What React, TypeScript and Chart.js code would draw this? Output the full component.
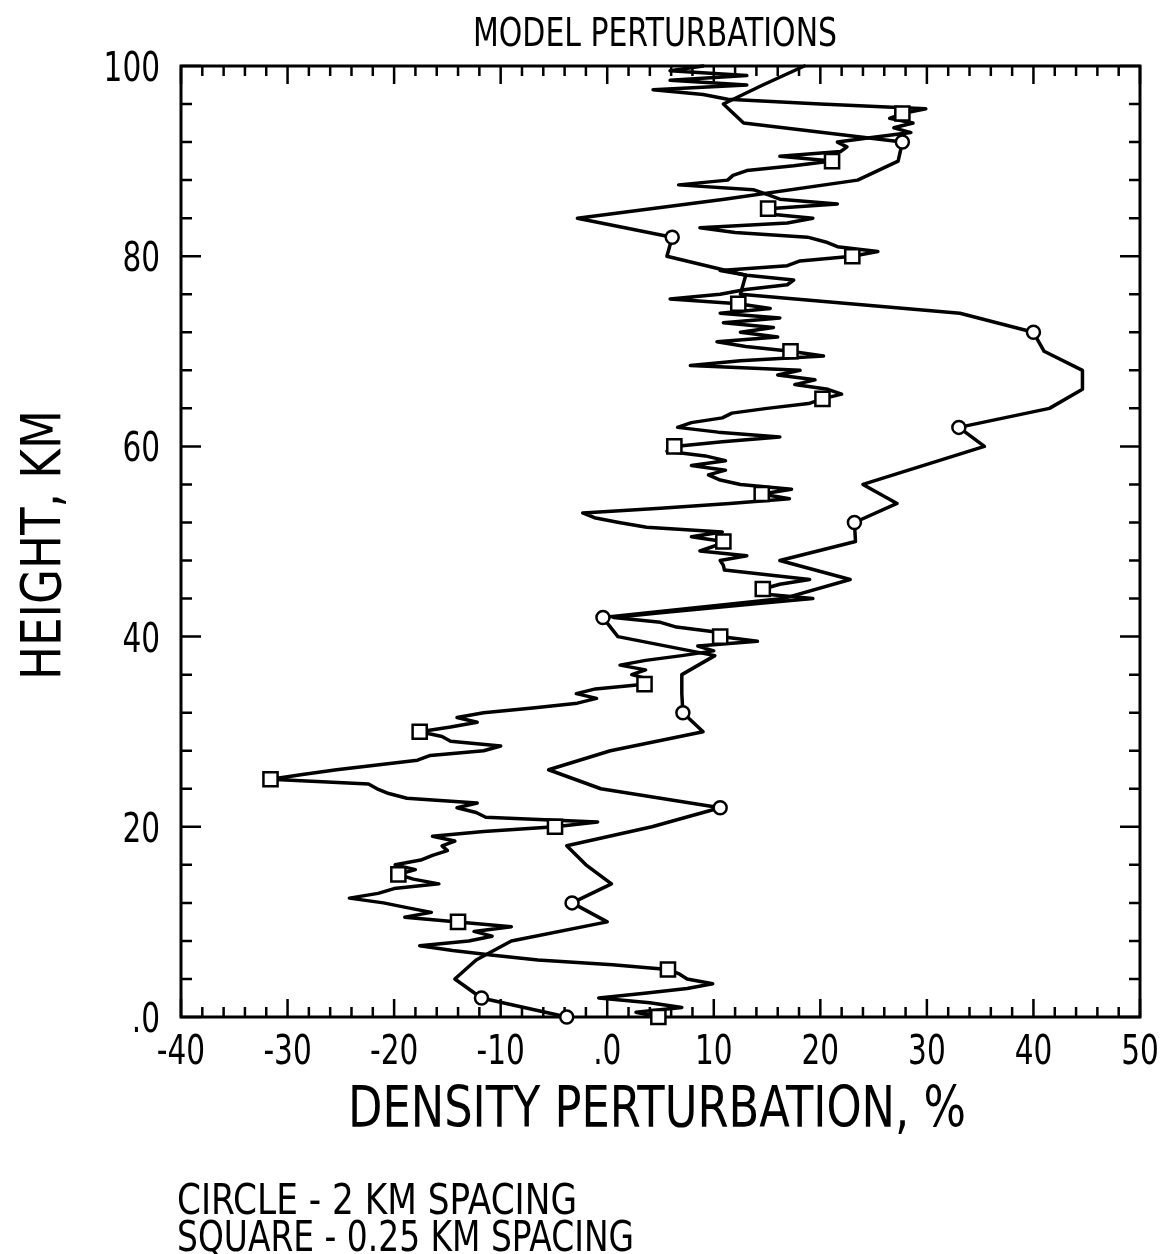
import React, { useEffect, useRef } from 'react';
import { Chart, registerables } from 'chart.js';

Chart.register(...registerables);

const FONT = "'Liberation Sans Narrow', 'DejaVu Sans Condensed', 'Liberation Sans', sans-serif";

const chartTitle = 'MODEL PERTURBATIONS';
const xAxisTitle = 'DENSITY PERTURBATION, %';
const yAxisTitle = 'HEIGHT, KM';
const noteLines = ['CIRCLE - 2 KM SPACING', 'SQUARE - 0.25 KM SPACING'];

// Circle series: 2 km spacing
const circleHeights = [
  0, 2, 4, 6, 8, 10, 12, 14, 16, 18,
  20, 22, 24, 26, 28, 30, 32, 34, 36, 38,
  40, 42, 44, 46, 48, 50, 52, 54, 56, 58,
  60, 62, 64, 66, 68, 70, 72, 74, 76, 78,
  80, 82, 84, 86, 88, 90, 92, 94, 96, 98,
  100,
];
const circleValues = [
  -3.8, -11.8, -14.3, -12.3, -9.0, 0.0, -3.3, 0.4, -2.0, -3.8,
  4.2, 10.6, -0.6, -5.5, 0.3, 9.0, 7.1, 7.0, 7.0, 10.1,
  1.0, -0.4, 16.5, 22.8, 16.2, 23.3, 23.2, 27.2, 24.0, 29.7,
  35.4, 33.0, 41.5, 44.6, 44.6, 41.0, 40.0, 33.1, 12.5, 13.0,
  5.6, 6.1, -2.8, 11.0, 23.5, 27.3, 27.7, 12.8, 10.9, 14.6,
  18.5,
];
const circleMarkerHeights = [0, 2, 12, 22, 32, 42, 52, 62, 72, 82, 92];

// Square series: fine spacing profile
const squareHeights = [
  0, 0.5, 1, 1.5, 2, 2.5, 3, 3.5, 4, 4.5,
  5, 5.5, 6, 6.5, 7, 7.5, 8, 8.5, 9, 9.5,
  10, 10.5, 11, 11.5, 12, 12.5, 13, 13.5, 14, 14.5,
  15, 15.5, 16, 16.5, 17, 17.5, 18, 18.5, 19, 19.5,
  20, 20.5, 21, 21.5, 22, 22.5, 23, 23.5, 24, 24.5,
  25, 25.5, 26, 26.5, 27, 27.5, 28, 28.5, 29, 29.5,
  30, 30.5, 31, 31.5, 32, 32.5, 33, 33.5, 34, 34.5,
  35, 35.5, 36, 36.5, 37, 37.5, 38, 38.5, 39, 39.5,
  40, 40.5, 41, 41.5, 42, 42.5, 43, 43.5, 44, 44.5,
  45, 45.5, 46, 46.5, 47, 47.5, 48, 48.5, 49, 49.5,
  50, 50.5, 51, 51.5, 52, 52.5, 53, 53.5, 54, 54.5,
  55, 55.5, 56, 56.5, 57, 57.5, 58, 58.5, 59, 59.5,
  60, 60.5, 61, 61.5, 62, 62.5, 63, 63.5, 64, 64.5,
  65, 65.5, 66, 66.5, 67, 67.5, 68, 68.5, 69, 69.5,
  70, 70.5, 71, 71.5, 72, 72.5, 73, 73.5, 74, 74.5,
  75, 75.5, 76, 76.5, 77, 77.5, 78, 78.5, 79, 79.5,
  80, 80.5, 81, 81.5, 82, 82.5, 83, 83.5, 84, 84.5,
  85, 85.5, 86, 86.5, 87, 87.5, 88, 88.5, 89, 89.5,
  90, 90.5, 91, 91.5, 92, 92.5, 93, 93.5, 94, 94.5,
  95, 95.5, 96, 96.5, 97, 97.5, 98, 98.5, 99, 99.5,
  100,
];
const squareValues = [
  4.8, 2.7, 7.0, 4.0, -0.8, 3.5, 7.5, 9.9, 7.5, 6.8,
  5.7, 0.5, -6.5, -10.7, -14.5, -17.6, -13.0, -10.8, -12.5, -9.0,
  -14.0, -19.0, -16.5, -18.8, -21.0, -24.2, -21.5, -20.0, -15.8, -18.2,
  -19.6, -18.0, -19.9, -17.5, -16.4, -15.0, -15.5, -14.3, -16.4, -11.6,
  -4.9, -0.9, -11.4, -12.3, -14.1, -12.2, -18.8, -20.5, -21.6, -22.4,
  -31.6, -28.6, -25.4, -21.6, -17.8, -16.6, -11.6, -10.0, -14.7, -15.5,
  -17.6, -14.7, -12.2, -14.1, -11.6, -7.0, -2.8, -1.0, -2.9, -1.1,
  3.5, 4.0, 2.3, 3.6, 1.2, 3.6, 7.0, 10.0, 8.5, 14.1,
  10.6, 10.0, 6.5, 5.0, 0.6, 5.0, 9.7, 14.4, 19.3, 14.4,
  14.6, 16.2, 19.0, 15.0, 11.0, 10.9, 10.6, 13.1, 8.7, 10.0,
  10.9, 7.9, 10.8, 3.7, 1.1, -1.2, -2.3, 5.0, 11.5, 17.1,
  14.5, 17.3, 12.5, 10.5, 9.5, 11.1, 7.9, 11.1, 9.2, 5.6,
  6.3, 10.8, 16.2, 10.4, 6.6, 7.9, 10.8, 11.7, 15.0, 18.9,
  20.2, 22.0, 20.7, 17.6, 19.5, 16.0, 18.1, 7.8, 12.5, 20.3,
  17.2, 13.0, 10.3, 16.0, 12.5, 15.6, 10.9, 16.2, 10.6, 15.3,
  12.3, 5.9, 10.6, 13.0, 16.9, 17.5, 13.1, 10.6, 16.9, 18.1,
  23.0, 25.4, 21.6, 20.5, 18.8, 12.0, 8.7, 16.9, 19.3, 14.7,
  15.1, 21.6, 16.2, 15.0, 13.7, 6.7, 11.3, 11.8, 13.1, 17.5,
  21.1, 16.2, 21.9, 22.5, 21.6, 25.0, 28.5, 26.9, 28.7, 26.5,
  27.7, 29.9, 20.0, 11.3, 9.0, 4.3, 13.1, 5.9, 13.1, 5.9,
  9.0,
];
const squareMarkerHeights = [0, 5, 10, 15, 20, 25, 30, 35, 40, 45, 50, 55, 60, 65, 70, 75, 80, 85, 90, 95];

const X_MIN = -40;
const X_MAX = 50;
const X_STEP = 10;
const Y_MIN = 0;
const Y_MAX = 100;
const Y_STEP = 20;

const tickLabel = (v: number) => (v === 0 ? '.0' : String(v));

function capSize(ctx: CanvasRenderingContext2D, capH: number) {
  ctx.font = `100px ${FONT}`;
  const m = ctx.measureText('H');
  const asc = m.actualBoundingBoxAscent || 71.6;
  return (capH / asc) * 100;
}

function drawFitted(
  ctx: CanvasRenderingContext2D,
  text: string,
  x: number,
  baseline: number,
  capH: number,
  width: number | null,
  align: 'left' | 'center' | 'right',
  rotate = 0,
  squash = 1
) {
  ctx.save();
  const size = capSize(ctx, capH);
  ctx.font = `${size}px ${FONT}`;
  const w = ctx.measureText(text).width;
  ctx.translate(x, baseline);
  if (rotate) ctx.rotate(rotate);
  ctx.scale(width ? width / w : squash, 1);
  ctx.fillStyle = '#000';
  ctx.textAlign = align;
  ctx.textBaseline = 'alphabetic';
  ctx.fillText(text, 0, 0);
  ctx.restore();
}

const framePlugin = {
  id: 'frameTicks',
  beforeDatasetsDraw(chart: any) {
    const { ctx, chartArea: a, scales } = chart;
    const xs = scales.x;
    const ys = scales.y;
    ctx.save();
    ctx.strokeStyle = '#000';
    ctx.lineWidth = 3;
    ctx.strokeRect(a.left, a.top, a.right - a.left, a.bottom - a.top);
    ctx.lineWidth = 2.5;
    ctx.beginPath();
    for (let v = X_MIN; v <= X_MAX; v += 2) {
      const px = xs.getPixelForValue(v);
      const len = v % X_STEP === 0 ? 18 : 10;
      ctx.moveTo(px, a.bottom);
      ctx.lineTo(px, a.bottom - len);
      ctx.moveTo(px, a.top);
      ctx.lineTo(px, a.top + len);
    }
    for (let h = Y_MIN; h <= Y_MAX; h += 4) {
      const py = ys.getPixelForValue(h);
      const len = h % Y_STEP === 0 ? 20 : 11;
      ctx.moveTo(a.left, py);
      ctx.lineTo(a.left + len, py);
      ctx.moveTo(a.right, py);
      ctx.lineTo(a.right - len, py);
    }
    ctx.stroke();
    ctx.restore();

    // tick labels from the library's own tick lists
    xs.ticks.forEach((t: any) => {
      const px = xs.getPixelForValue(t.value);
      drawFitted(ctx, tickLabel(t.value), px, a.bottom + 47, 30, null, 'center', 0, 0.8);
    });
    ys.ticks.forEach((t: any) => {
      const py = ys.getPixelForValue(t.value);
      drawFitted(ctx, tickLabel(t.value), a.left - 21, py + 15, 30, null, 'right', 0, 0.8);
    });
  },
  afterDraw(chart: any) {
    const { ctx } = chart;
    drawFitted(ctx, chartTitle, 655, 46, 28, 364, 'center');
    drawFitted(ctx, xAxisTitle, 657, 1127, 42, 618, 'center');
    drawFitted(ctx, yAxisTitle, 60, 545, 40, 270, 'center', -Math.PI / 2);
    drawFitted(ctx, noteLines[0], 177, 1214, 31, 400, 'left');
    drawFitted(ctx, noteLines[1], 177, 1251, 31, 457, 'left');
  },
};

export default function App() {
  const canvasRef = useRef<HTMLCanvasElement | null>(null);

  useEffect(() => {
    const canvas = canvasRef.current;
    if (!canvas) return;

    const circleData = circleHeights.map((h, i) => ({ x: circleValues[i], y: h }));
    const squareData = squareHeights.map((h, i) => ({ x: squareValues[i], y: h }));

    const chart = new Chart(canvas, {
      type: 'scatter',
      data: {
        datasets: [
          {
            label: 'CIRCLE - 2 KM SPACING',
            data: circleData,
            showLine: true,
            borderColor: '#000',
            borderWidth: 3.5,
            backgroundColor: '#fff',
            pointStyle: 'circle',
            pointBorderColor: '#000',
            pointBackgroundColor: '#fff',
            pointBorderWidth: 2.5,
            pointRadius: (c: any) => (circleMarkerHeights.includes(c.raw?.y) ? 6.5 : 0),
            tension: 0,
            clip: false,
          } as any,
          {
            label: 'SQUARE - 0.25 KM SPACING',
            data: squareData,
            showLine: true,
            borderColor: '#000',
            borderWidth: 3.5,
            backgroundColor: '#fff',
            pointStyle: 'rect',
            pointBorderColor: '#000',
            pointBackgroundColor: '#fff',
            pointBorderWidth: 2.5,
            pointRadius: (c: any) => (squareMarkerHeights.includes(c.raw?.y) ? 10 : 0),
            tension: 0,
            clip: false,
          } as any,
        ],
      },
      options: {
        responsive: false,
        animation: false,
        devicePixelRatio: 1,
        layout: { padding: { top: 66, right: 20, left: 0, bottom: 0 } },
        elements: { line: { borderJoinStyle: 'round', borderCapStyle: 'round' } },
        plugins: {
          legend: { display: false },
          tooltip: { enabled: false },
          title: { display: false },
        },
        scales: {
          x: {
            type: 'linear',
            min: X_MIN,
            max: X_MAX,
            grid: { display: false, drawTicks: false },
            border: { display: false },
            ticks: {
              stepSize: X_STEP,
              display: false,
              callback: (v: any) => tickLabel(Number(v)),
            },
            afterFit: (s: any) => {
              s.height = 237;
              s.paddingLeft = 0;
              s.paddingRight = 0;
            },
          },
          y: {
            type: 'linear',
            min: Y_MIN,
            max: Y_MAX,
            grid: { display: false, drawTicks: false },
            border: { display: false },
            ticks: {
              stepSize: Y_STEP,
              display: false,
              callback: (v: any) => tickLabel(Number(v)),
            },
            afterFit: (s: any) => {
              s.width = 181;
              s.paddingTop = 0;
              s.paddingBottom = 0;
            },
          },
        },
      } as any,
      plugins: [framePlugin],
    });

    return () => chart.destroy();
  }, []);

  return (
    <div style={{ position: 'absolute', left: 0, top: 0, width: 1160, height: 1254, background: '#fff' }}>
      <canvas ref={canvasRef} width={1160} height={1254} style={{ display: 'block' }} />
    </div>
  );
}
